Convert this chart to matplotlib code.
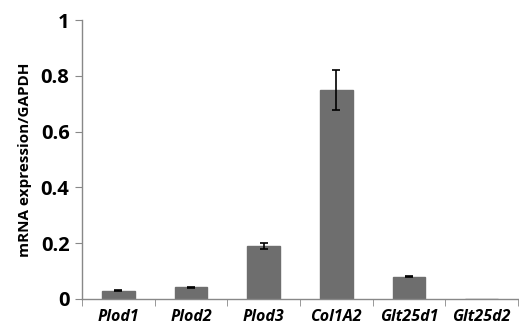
import matplotlib
matplotlib.use("Agg")
import matplotlib.pyplot as plt
import numpy as np

categories = ["Plod1", "Plod2", "Plod3", "Col1A2", "Glt25d1", "Glt25d2"]
values = [0.03, 0.042, 0.19, 0.75, 0.08, 0.0]
errors = [0.003, 0.002, 0.01, 0.072, 0.002, 0.0]
yticks = [0, 0.2, 0.4, 0.6, 0.8, 1]
ytick_labels = ["0", "0.2", "0.4", "0.6", "0.8", "1"]

plt.rcParams['font.family'] = ['Open Sans', 'DejaVu Sans']

fig = plt.figure(figsize=(5.19, 3.30), dpi=100)
ax = fig.add_axes([0.158, 0.094, 0.84, 0.845])

x = np.arange(len(categories))
ax.bar(x, values, width=0.45, color="#6e6e6e", edgecolor="#6e6e6e", zorder=2)
eb_x = [xi for xi, e in zip(x, errors) if e > 0]
eb_v = [v for v, e in zip(values, errors) if e > 0]
eb_e = [e for e in errors if e > 0]
ax.errorbar(eb_x, eb_v, yerr=eb_e, fmt="none", ecolor="black", elinewidth=1.2, capsize=3, capthick=1.2, zorder=3)

ax.set_xlim(-0.5, len(categories) - 0.5)
ax.set_ylim(0, 1)
ax.set_yticks(yticks)
ax.set_yticklabels(ytick_labels, fontsize=14.5, fontweight="bold")
ax.set_xticks(x)
ax.set_xticklabels(categories, fontsize=11.5, fontweight="bold", style="italic")
ax.tick_params(axis="x", length=0, pad=7)
ax.set_xticks(np.arange(-0.5, len(categories) + 0.5, 1), minor=True)
ax.tick_params(axis="x", which="minor", length=5, color="#888888", direction="out")
ax.tick_params(axis="y", length=5, color="#888888", direction="out", pad=4)

for s in ["top", "right"]:
    ax.spines[s].set_visible(False)
for s in ["left", "bottom"]:
    ax.spines[s].set_color("#888888")
    ax.spines[s].set_linewidth(1.0)

ax.set_ylabel("mRNA expression/GAPDH", fontsize=11, fontweight="bold", labelpad=6)

fig.savefig("out.png", dpi=100)
